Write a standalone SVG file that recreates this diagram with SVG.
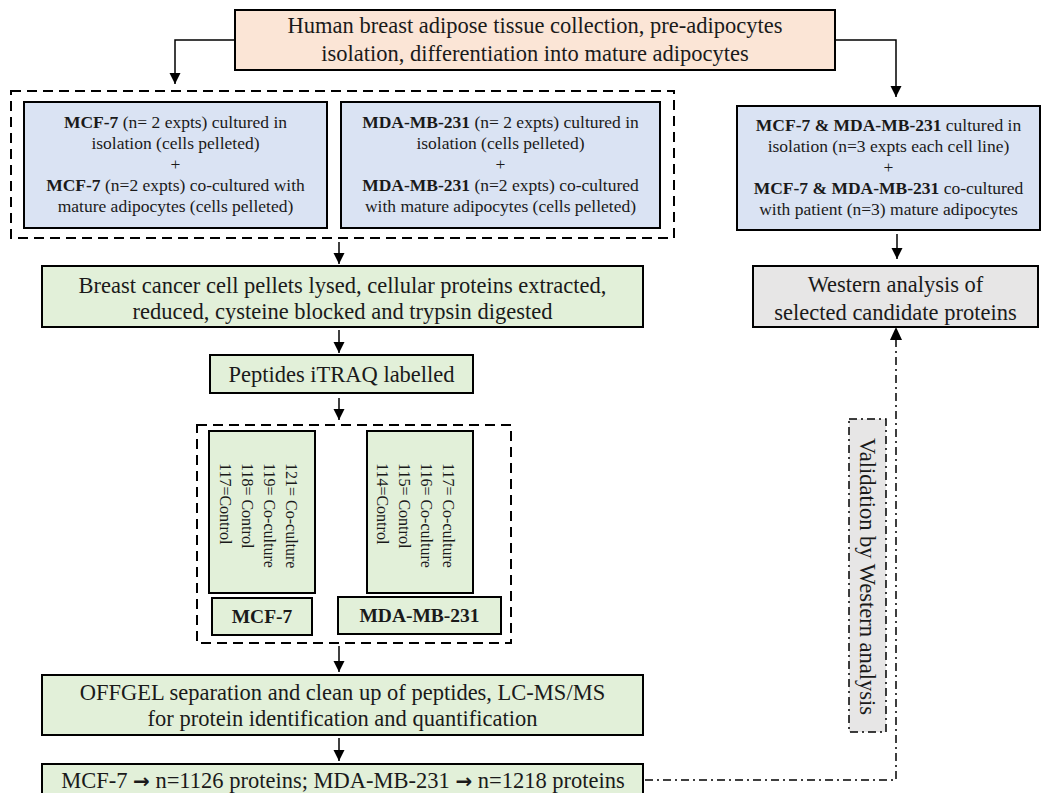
<svg xmlns="http://www.w3.org/2000/svg" width="1043" height="793" viewBox="0 0 1043 793">
<defs>
<marker id="ah" markerUnits="userSpaceOnUse" markerWidth="12" markerHeight="12" viewBox="0 0 12 12" refX="11" refY="6" orient="auto">
<path d="M0,0.5 L11,6 L0,11.5 Z" fill="#000"/>
</marker>
<style>
.t{font-family:"Liberation Serif","Times New Roman",serif;fill:#1a1a1a;text-anchor:middle}
.big{font-size:22.5px}
.mid{font-size:17.5px}
.rot{font-size:16px;text-anchor:start}
.b{font-weight:bold}
.arr{font-family:"DejaVu Sans",sans-serif;font-weight:bold;font-size:20px}
.box{stroke:#000;stroke-width:2}
.peach{fill:#fbe5d6}
.blue{fill:#dae3f3}
.green{fill:#e2f0d9}
.gray{fill:#e7e6e6}
.dash{fill:none;stroke:#000;stroke-width:2;stroke-dasharray:10,6}
.conn{fill:none;stroke:#000;stroke-width:1.5;marker-end:url(#ah)}
.dd{fill:none;stroke:#000;stroke-width:1.5;stroke-dasharray:8,4,2,4}
</style>
</defs>

<g id="connectors">
<path class="conn" d="M235,40 H175 V84"/>
<path class="conn" d="M835,40 H896 V97"/>
<path class="conn" d="M339,242 V264"/>
<path class="conn" d="M339,330 V353"/>
<path class="conn" d="M339,398 V420"/>
<path class="conn" d="M339,646 V672"/>
<path class="conn" d="M339,738 V761"/>
<path class="conn" d="M897,234 V259"/>
<path class="dd" d="M645,780 H896 V340"/>
<path d="M890,340 L896,327 L902,340 Z" fill="#000"/>
</g>

<g id="group1">
<rect class="dash" x="11" y="91" width="663" height="147"/>
</g>
<g id="group2">
<rect class="dash" x="197" y="425" width="314" height="218"/>
</g>

<g id="top">
<rect class="box peach" x="235" y="10" width="600" height="60"/>
<text class="t big" x="535" y="33">Human breast adipose tissue collection, pre-adipocytes</text>
<text class="t big" x="535" y="61">isolation, differentiation into mature adipocytes</text>
</g>

<g id="mcf7-culture">
<rect class="box blue" x="24" y="102" width="303" height="126"/>
<text class="t mid" x="175.5" y="128"><tspan class="b">MCF-7</tspan> (n= 2 expts) cultured in</text>
<text class="t mid" x="175.5" y="149">isolation (cells pelleted)</text>
<text class="t mid" x="175.5" y="170">+</text>
<text class="t mid" x="175.5" y="191"><tspan class="b">MCF-7</tspan> (n=2 expts) co-cultured with</text>
<text class="t mid" x="175.5" y="212">mature adipocytes (cells pelleted)</text>
</g>

<g id="mda-culture">
<rect class="box blue" x="341" y="102" width="319" height="126"/>
<text class="t mid" x="500.5" y="128"><tspan class="b">MDA-MB-231</tspan> (n= 2 expts) cultured in</text>
<text class="t mid" x="500.5" y="149">isolation (cells pelleted)</text>
<text class="t mid" x="500.5" y="170">+</text>
<text class="t mid" x="500.5" y="191"><tspan class="b">MDA-MB-231</tspan> (n=2 expts) co-cultured</text>
<text class="t mid" x="500.5" y="212">with mature adipocytes (cells pelleted)</text>
</g>

<g id="western-culture">
<rect class="box blue" x="737" y="106" width="303" height="124"/>
<text class="t mid" x="888.5" y="131"><tspan class="b">MCF-7 &amp; MDA-MB-231</tspan> cultured in</text>
<text class="t mid" x="888.5" y="152">isolation (n=3 expts each cell line)</text>
<text class="t mid" x="888.5" y="173">+</text>
<text class="t mid" x="888.5" y="194"><tspan class="b">MCF-7 &amp; MDA-MB-231</tspan> co-cultured</text>
<text class="t mid" x="888.5" y="215">with patient (n=3) mature adipocytes</text>
</g>

<g id="lysis">
<rect class="box green" x="42" y="266" width="601" height="61"/>
<text class="t big" x="342.5" y="293">Breast cancer cell pellets lysed, cellular proteins extracted,</text>
<text class="t big" x="342.5" y="319">reduced, cysteine blocked and trypsin digested</text>
</g>

<g id="western">
<rect class="box gray" x="753" y="266" width="285" height="61"/>
<text class="t big" x="895.5" y="292">Western analysis of</text>
<text class="t big" x="895.5" y="320">selected candidate proteins</text>
</g>

<g id="itraq">
<rect class="box green" x="210" y="355" width="263" height="38"/>
<text class="t big" x="341.5" y="382">Peptides iTRAQ labelled</text>
</g>

<g id="mcf7-labels">
<rect class="box green" x="209" y="431" width="106" height="162"/>
<g transform="translate(286,463) rotate(90)">
<text class="t rot" x="0" y="0">121= Co-culture</text>
<text class="t rot" x="0" y="22">119= Co-culture</text>
<text class="t rot" x="0" y="44">118= Control</text>
<text class="t rot" x="0" y="66">117=Control</text>
</g>
</g>

<g id="mda-labels">
<rect class="box green" x="367" y="431" width="106" height="162"/>
<g transform="translate(443,463) rotate(90)">
<text class="t rot" x="0" y="0">117= Co-culture</text>
<text class="t rot" x="0" y="22">116= Co-culture</text>
<text class="t rot" x="0" y="44">115= Control</text>
<text class="t rot" x="0" y="66">114=Control</text>
</g>
</g>

<g id="mcf7-name">
<rect class="box green" x="212" y="598" width="100" height="37"/>
<text class="t b" style="font-size:19.5px" x="262" y="623">MCF-7</text>
</g>

<g id="mda-name">
<rect class="box green" x="338" y="597" width="163" height="37"/>
<text class="t b" style="font-size:19.5px" x="419.5" y="622">MDA-MB-231</text>
</g>

<g id="offgel">
<rect class="box green" x="42" y="675" width="601" height="60"/>
<text class="t big" x="342.5" y="700">OFFGEL separation and clean up of peptides, LC-MS/MS</text>
<text class="t big" x="342.5" y="726">for protein identification and quantification</text>
</g>

<g id="results">
<rect class="box green" x="42" y="764" width="601" height="40"/>
<text class="t big" x="343" y="788">MCF-7 <tspan class="arr">→</tspan> n=1126 proteins; MDA-MB-231 <tspan class="arr">→</tspan> n=1218 proteins</text>
</g>

<g id="validation">
<rect class="gray" x="849" y="419" width="37" height="313" style="stroke:#000;stroke-width:1.5;stroke-dasharray:8,4,2,4"/>
<text class="t" style="font-size:22.5px;text-anchor:start" transform="translate(860,438) rotate(90)">Validation by Western analysis</text>
</g>
</svg>
